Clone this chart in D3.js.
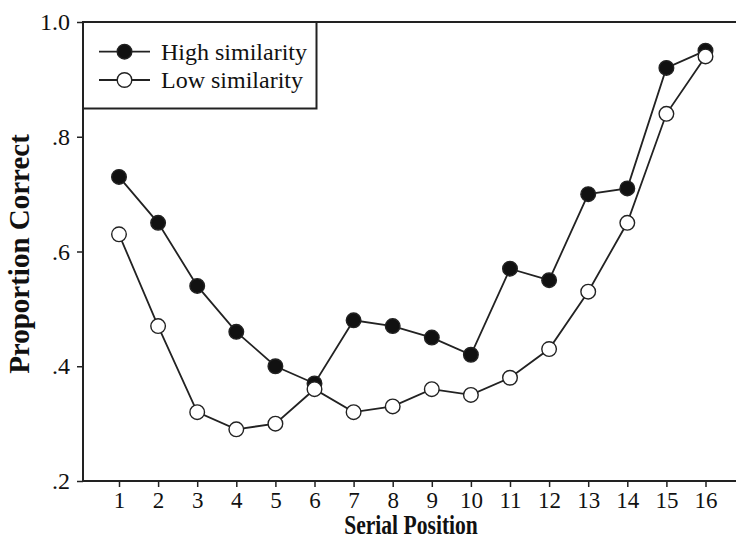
<!DOCTYPE html>
<html>
<head>
<meta charset="utf-8">
<script src="https://cdn.jsdelivr.net/npm/d3@7"></script>
<style>
  html, body { margin: 0; padding: 0; background: #fff; }
  svg { display: block; }
  text { font-family: "Liberation Serif", "Times New Roman", serif; fill: #111; }
</style>
</head>
<body>
<svg id="chart" width="736" height="540"></svg>
<script>
const positions = [1,2,3,4,5,6,7,8,9,10,11,12,13,14,15,16];
const highSimilarity = [0.73,0.65,0.54,0.46,0.40,0.37,0.48,0.47,0.45,0.42,0.57,0.55,0.70,0.71,0.92,0.95];
const lowSimilarity  = [0.63,0.47,0.32,0.29,0.30,0.36,0.32,0.33,0.36,0.35,0.38,0.43,0.53,0.65,0.84,0.94];
const yTicks = [0.2,0.4,0.6,0.8,1.0];
const yTickLabels = [".2",".4",".6",".8","1.0"];
const seriesNames = ["High similarity","Low similarity"];

(function () {
const svg = d3.select("#chart");
const mLeft = 83, mRight = 736, mTop = 22, mBottom = 481;

const x = d3.scaleLinear().domain([1,16]).range([119, 705.5]);
const y = d3.scaleLinear().domain([0.2,1.0]).range([mBottom, mTop]);

// x axis
const xAxis = svg.append("g").attr("transform", `translate(0,${mBottom})`)
  .call(d3.axisBottom(x).tickValues(positions).tickFormat(d3.format("d")).tickSize(6).tickPadding(5).tickSizeOuter(0));
xAxis.select(".domain").remove();
xAxis.selectAll(".tick line").attr("stroke", "#222").attr("stroke-width", 1.5);
xAxis.selectAll(".tick text").style("font-size", "23px").style("font-family", '"Liberation Serif", serif').attr("fill", "#111");

// y axis
const yAxis = svg.append("g").attr("transform", `translate(${mLeft},0)`)
  .call(d3.axisLeft(y).tickValues(yTicks).tickFormat((d,i) => yTickLabels[i]).tickSize(6).tickPadding(7).tickSizeOuter(0));
yAxis.select(".domain").remove();
yAxis.selectAll(".tick line").attr("stroke", "#222").attr("stroke-width", 1.5);
yAxis.selectAll(".tick text").style("font-size", "24px").style("font-family", '"Liberation Serif", serif').attr("fill", "#111");

// frame lines
svg.append("line").attr("x1", mLeft).attr("x2", mLeft).attr("y1", mTop - 1).attr("y2", mBottom + 1)
  .attr("stroke", "#222").attr("stroke-width", 2);
svg.append("line").attr("x1", mLeft - 1).attr("x2", mRight).attr("y1", mBottom).attr("y2", mBottom)
  .attr("stroke", "#222").attr("stroke-width", 2);
svg.append("line").attr("x1", mLeft - 1).attr("x2", mRight).attr("y1", mTop).attr("y2", mTop)
  .attr("stroke", "#222").attr("stroke-width", 2);

// axis titles
svg.append("text").attr("transform", "translate(411,533.5) scale(0.8,1)").attr("text-anchor", "middle")
  .style("font-size", "27px").style("font-weight", "bold").text("Serial Position");
svg.append("text").attr("transform", `translate(29,254) rotate(-90)`)
  .attr("text-anchor", "middle").style("font-size", "29px").style("font-weight", "bold").text("Proportion Correct");

const line = d3.line().x((d,i) => x(positions[i])).y(d => y(d));
const series = [
  { name: seriesNames[0], values: highSimilarity, fill: "#111" },
  { name: seriesNames[1], values: lowSimilarity, fill: "#fff" }
];

series.forEach(s => {
  svg.append("path").datum(s.values).attr("d", line)
    .attr("fill", "none").attr("stroke", "#222").attr("stroke-width", 1.8);
});
series.forEach(s => {
  svg.append("g").selectAll("circle").data(s.values).join("circle")
    .attr("cx", (d,i) => x(positions[i])).attr("cy", d => y(d)).attr("r", 7.3)
    .attr("fill", s.fill).attr("stroke", "#222").attr("stroke-width", 1.4);
});

// legend
const lg = svg.append("g");
lg.append("rect").attr("x", mLeft).attr("y", mTop).attr("width", 316.5 - mLeft).attr("height", 108.5 - mTop)
  .attr("fill", "#fff").attr("stroke", "#222").attr("stroke-width", 2);
const rows = [51.7, 80];
series.forEach((s, i) => {
  lg.append("line").attr("x1", 99).attr("x2", 150).attr("y1", rows[i]).attr("y2", rows[i])
    .attr("stroke", "#222").attr("stroke-width", 1.8);
  lg.append("circle").attr("cx", 124.5).attr("cy", rows[i]).attr("r", 7.3)
    .attr("fill", s.fill).attr("stroke", "#222").attr("stroke-width", 1.4);
  lg.append("text").attr("x", 161).attr("y", rows[i]).attr("dy", "0.35em")
    .style("font-size", "24px").text(s.name);
});
})();
</script>
</body>
</html>
